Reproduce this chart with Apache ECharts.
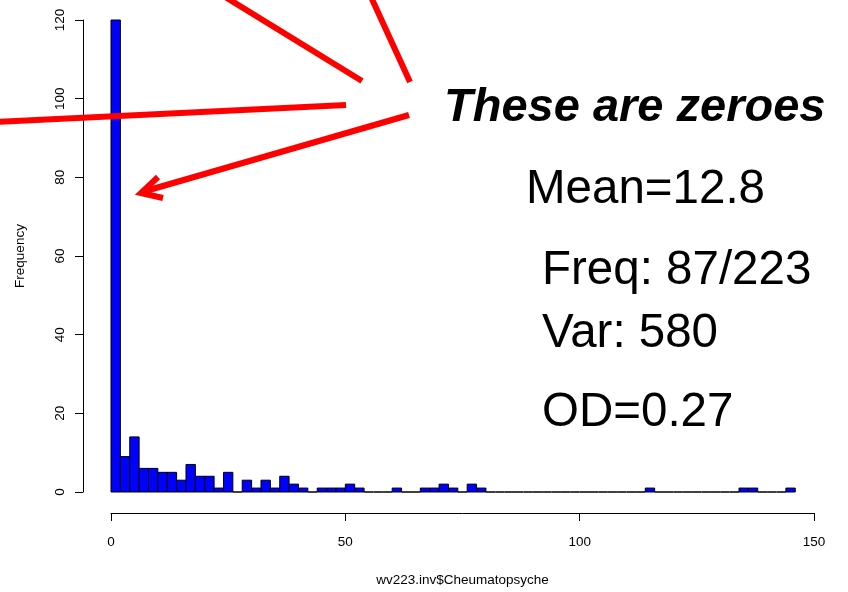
<!DOCTYPE html>
<html><head><meta charset="utf-8">
<script src="https://cdn.jsdelivr.net/npm/echarts@6/dist/echarts.min.js"></script>
<style>html,body{margin:0;padding:0;background:#fff}#c{width:848px;height:592px}</style>
</head><body><div id="c"></div>
<script>
// histogram of wv223.inv$Cheumatopsyche, bins of width 2 starting at 0
const binStart = 0;
const binWidth = 2;
const counts = [120, 9, 14, 6, 6, 5, 5, 3, 7, 4, 4, 1, 5, 0, 3, 1, 3, 1, 4, 2,
                1, 0, 1, 1, 1, 2, 1, 0, 0, 0, 1, 0, 0, 1, 1, 2, 1, 0, 2, 1,
                0, 0, 0, 0, 0, 0, 0, 0, 0, 0, 0, 0, 0, 0, 0, 0, 0, 1, 0, 0,
                0, 0, 0, 0, 0, 0, 0, 1, 1, 0, 0, 0, 1];
const xTicks = [0, 50, 100, 150];
const yTicks = [0, 20, 40, 60, 80, 100, 120];
const xTitle = 'wv223.inv$Cheumatopsyche';
const yTitle = 'Frequency';
const notes = ['These are zeroes', 'Mean=12.8', 'Freq: 87/223', 'Var: 580', 'OD=0.27'];

const FONT = '"Liberation Sans", Arial, Helvetica, sans-serif';
const AX_FS = 13.5;
const data = counts.map((c, i) => [binStart + i * binWidth, binStart + (i + 1) * binWidth, c]);

const chart = echarts.init(document.getElementById('c'), null, {renderer: 'canvas'});
const red = '#ff0000';
function txt(t, x, y, size, bold) {
  return {type: 'text', z: 100, style: {text: t, x: x, y: y, fill: '#000',
    font: (bold ? 'italic bold ' : '') + size + 'px ' + FONT,
    textAlign: 'left', align: 'left', textVerticalAlign: 'middle', verticalAlign: 'middle'}};
}
function ln(x1, y1, x2, y2) {
  return {type: 'line', z: 90, shape: {x1, y1, x2, y2}, style: {stroke: red, lineWidth: 6, lineCap: 'butt'}};
}
chart.setOption({
  animation: false,
  backgroundColor: '#fff',
  grid: {left: 111, right: 34, top: 20, bottom: 100},
  xAxis: {
    type: 'value', min: xTicks[0], max: xTicks[xTicks.length - 1], interval: 50,
    offset: 21,
    axisLine: {show: true, onZero: false, lineStyle: {color: '#000', width: 1}},
    axisTick: {show: true, length: 8, lineStyle: {color: '#000'}},
    axisLabel: {margin: 22, color: '#000', fontSize: AX_FS, fontFamily: FONT},
    splitLine: {show: false},
    name: xTitle, nameLocation: 'middle', nameGap: 60,
    nameTextStyle: {color: '#000', fontSize: AX_FS, fontFamily: FONT}
  },
  yAxis: {
    type: 'value', min: yTicks[0], max: yTicks[yTicks.length - 1], interval: 20,
    offset: 28,
    axisLine: {show: true, onZero: false, lineStyle: {color: '#000', width: 1}},
    axisTick: {show: true, length: 8, lineStyle: {color: '#000'}},
    axisLabel: {margin: 16, rotate: 90, color: '#000', fontSize: AX_FS, fontFamily: FONT},
    splitLine: {show: false},
    name: yTitle, nameLocation: 'middle', nameGap: 56,
    nameTextStyle: {color: '#000', fontSize: AX_FS, fontFamily: FONT}
  },
  series: [{
    type: 'custom',
    data: data,
    encode: {x: [0, 1], y: 2},
    renderItem: function (params, api) {
      const x0 = api.value(0), x1 = api.value(1), c = api.value(2);
      const p0 = api.coord([x0, c]);
      const p1 = api.coord([x1, 0]);
      if (c === 0) {
        return {type: 'line', shape: {x1: p0[0], y1: p1[1], x2: p1[0], y2: p1[1]},
          style: {stroke: '#000', lineWidth: 1.5}};
      }
      return {type: 'rect', shape: {x: p0[0], y: p0[1], width: p1[0] - p0[0], height: p1[1] - p0[1]},
        style: {fill: '#0000ff', stroke: '#000', lineWidth: 1}};
    }
  }],
  graphic: [
    ln(222, -5, 362, 81),
    ln(371, -3, 410, 82),
    ln(-5, 122, 346, 105),
    ln(409, 115, 142, 192),
    {type: 'polyline', z: 90, shape: {points: [[158, 177], [141, 193], [163, 198]]},
      style: {stroke: red, lineWidth: 6, fill: null, lineJoin: 'miter'}},
    txt(notes[0], 444, 108, 47, true),
    txt(notes[1], 526, 190, 47.5, false),
    txt(notes[2], 542, 271, 47.5, false),
    txt(notes[3], 542, 334, 47.5, false),
    txt(notes[4], 542, 413, 47.5, false)
  ]
});
</script></body></html>
